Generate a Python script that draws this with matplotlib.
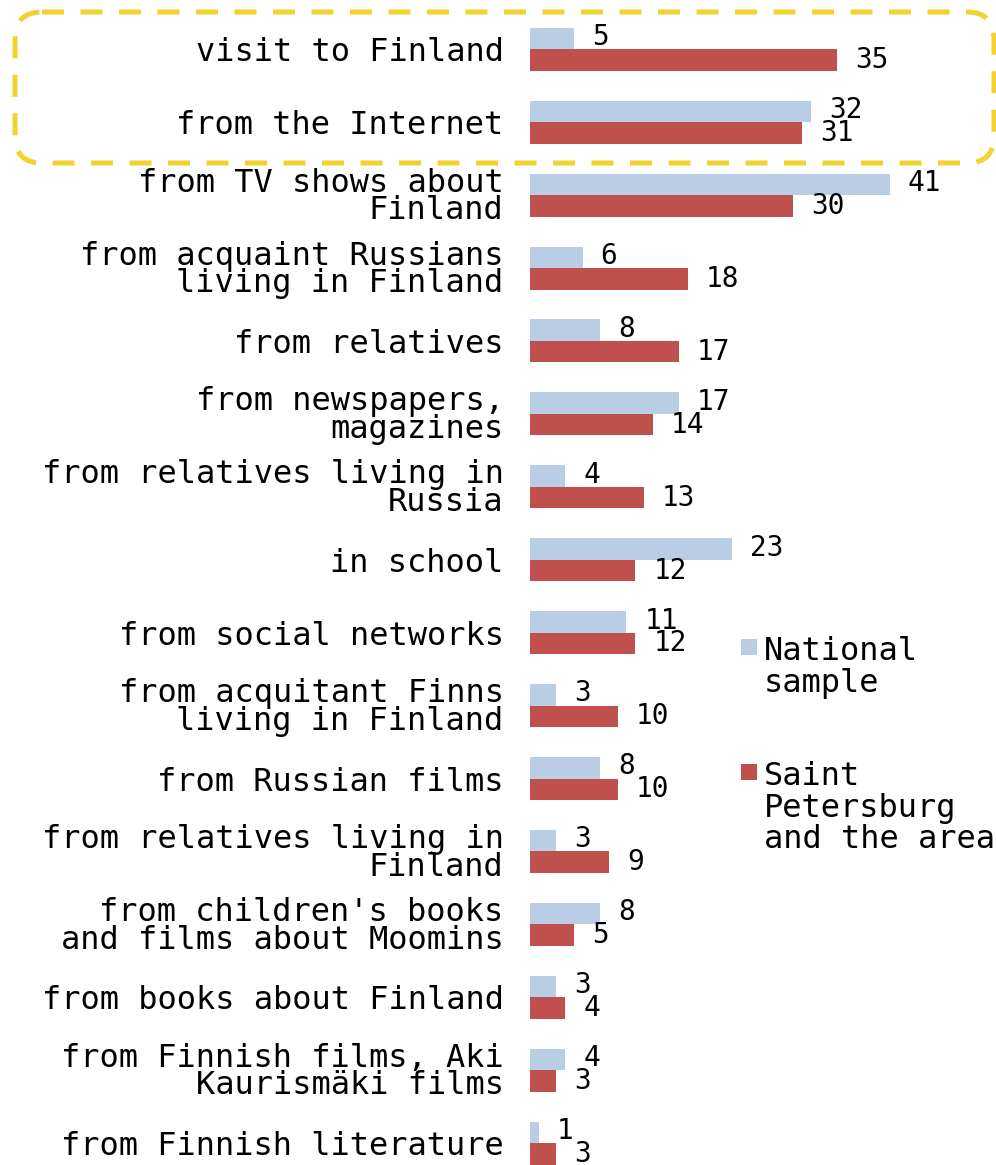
import matplotlib
matplotlib.use("Agg")
import matplotlib.pyplot as plt
import numpy as np
from matplotlib.patches import FancyBboxPatch, Rectangle

categories = [
    "visit to Finland",
    "from the Internet",
    "from TV shows about\nFinland",
    "from acquaint Russians\nliving in Finland",
    "from relatives",
    "from newspapers,\nmagazines",
    "from relatives living in\nRussia",
    "in school",
    "from social networks",
    "from acquitant Finns\nliving in Finland",
    "from Russian films",
    "from relatives living in\nFinland",
    "from children's books\nand films about Moomins",
    "from books about Finland",
    "from Finnish films, Aki\nKaurismäki films",
    "from Finnish literature",
]
national = [5, 32, 41, 6, 8, 17, 4, 23, 11, 3, 8, 3, 8, 3, 4, 1]
spb = [35, 31, 30, 18, 17, 14, 13, 12, 12, 10, 10, 9, 5, 4, 3, 3]

series_names = ["National\nsample", "Saint\nPetersburg\nand the area"]
BLUE = "#B9CDE5"
RED = "#C0504D"
MONO = "DejaVu Sans Mono"

W, H = 996, 1165
fig = plt.figure(figsize=(W / 100, H / 100), dpi=100)

# axes placed so rows sit at the reference pixel rows
row0, step = 49.25, 72.93
top_px = row0 - step / 2
bot_px = row0 + step * (len(categories) - 0.5)
x0_px = 530
ax = fig.add_axes([x0_px / W, (H - bot_px) / H, 1 - x0_px / W, (bot_px - top_px) / H])

y = np.arange(len(categories))
bh = 0.295
ax.barh(y - bh / 2, national, height=bh, color=BLUE, edgecolor="none")
ax.barh(y + bh / 2, spb, height=bh, color=RED, edgecolor="none")

ax.set_xlim(0, (W - x0_px) / 8.77)
ax.set_ylim(len(categories) - 0.5, -0.5)

for yi, v in zip(y, national):
    ax.annotate(str(v), (v, yi - bh / 2), xytext=(13, 1), textcoords="offset points",
                va="center", ha="left", fontsize=20, family=MONO)
for yi, v in zip(y, spb):
    ax.annotate(str(v), (v, yi + bh / 2), xytext=(13, 0), textcoords="offset points",
                va="center", ha="left", fontsize=20, family=MONO)

ax.set_yticks(y)
ax.set_yticklabels(categories, fontsize=23, family=MONO)
for lbl in ax.get_yticklabels():
    lbl.set_linespacing(0.86)
ax.tick_params(axis="y", length=0, pad=19)
ax.set_xticks([])
for s in ax.spines.values():
    s.set_visible(False)

# overlay in pixel coordinates for highlight box and legend
ov = fig.add_axes([0, 0, 1, 1], zorder=5)
ov.set_xlim(0, W)
ov.set_ylim(H, 0)
ov.axis("off")
ov.patch.set_alpha(0)

box = FancyBboxPatch((15, 12), 979, 151, boxstyle="round,pad=0,rounding_size=27",
                     fill=False, edgecolor="#F2D22E", linewidth=3.6,
                     linestyle=(0, (4.4, 3.3)))
ov.add_patch(box)

for (yy, col, name) in [(639, BLUE, series_names[0]), (764, RED, series_names[1])]:
    ov.add_patch(Rectangle((741, yy), 16, 16, color=col, linewidth=0))
    ov.text(764, yy - 3, name, fontsize=23, family=MONO, va="top", ha="left",
            linespacing=1.03)

fig.savefig("out.png", dpi=100)
